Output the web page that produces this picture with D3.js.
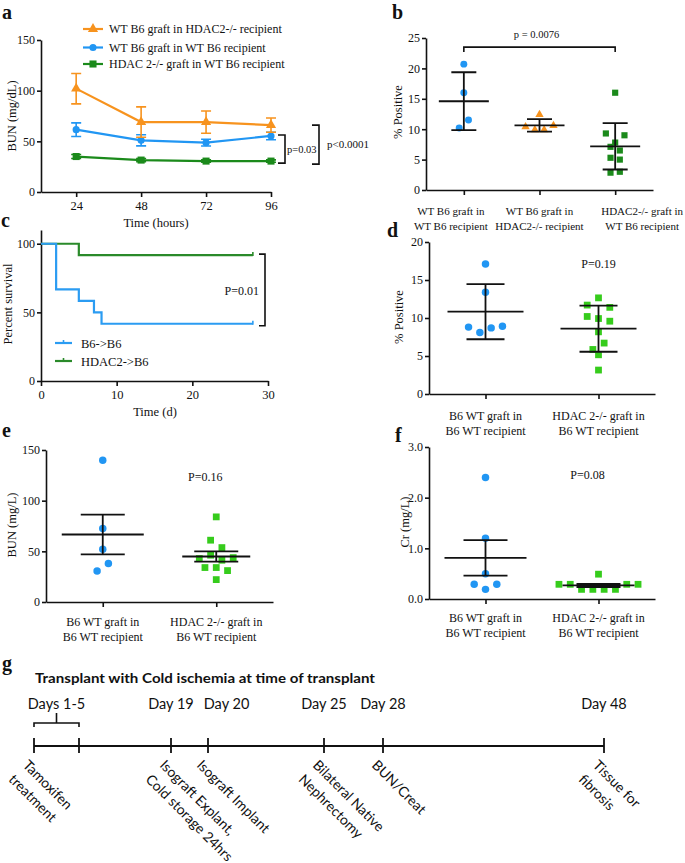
<!DOCTYPE html>
<html><head><meta charset="utf-8">
<script src="https://cdn.jsdelivr.net/npm/d3@7"></script>
<style>
body{margin:0;background:#fff;}
svg{display:block;background:#fff;}
</style></head><body>
<svg id="fig" width="685" height="863"></svg>
<script>
// ================= DATA =================
// Panel a: BUN over time (mean ± SEM)
const aTimes = [24, 48, 72, 96];
const aYTicks = [0, 50, 100, 150];
const aNames = ["WT B6 graft in HDAC2-/- recipient", "WT B6 graft in WT B6 recipient", "HDAC 2-/- graft in WT B6 recipient"];
const aOrangeMean = [102, 69, 69, 66];
const aOrangeErr = [15, 15, 11, 7];
const aBlueMean = [61.5, 51, 48.7, 55.3];
const aBlueErr = [6.7, 5.5, 3.3, 3.7];
const aGreenMean = [35, 31.5, 30.5, 30.5];
const aGreenErr = [2, 1.5, 1.2, 1.2];
const aP = ["p=0.03", "p<0.0001"];

// Panel b: % positive (mean ± SD)
const bLabels = [["WT B6 graft in", "WT B6 recipient"], ["WT B6 graft in", "HDAC2-/- recipient"], ["HDAC2-/- graft in", "WT B6 recipient"]];
const bWtInWt = [20.7, 16.0, 10.2, 11.5];
const bWtInHdac = [12.4, 10.4, 9.9, 9.9, 10.6];
const bHdacInWt = [16.0, 9.3, 7.8, 9.0, 7.1, 6.5, 5.3, 5.0, 2.85, 3.0];
const bYTicks = [0, 5, 10, 15, 20, 25];
const bP = "p = 0.0076";

// Panel c: survival
const cBlueTimes = [0, 2, 5, 7, 8, 28];
const cBlueSurv = [100, 66.7, 58.3, 50, 41.7, 41.7];
const cGreenTimes = [0, 5, 28];
const cGreenSurv = [100, 91.7, 91.7];
const cNames = ["B6->B6", "HDAC2->B6"];
const cXTicks = [0, 10, 20, 30];
const cYTicks = [0, 50, 100];
const cP = "P=0.01";

// Panels d, e, f (two groups each)
const dfLabels = [["B6 WT graft in", "B6 WT recipient"], ["HDAC 2-/- graft in", "B6 WT recipient"]];
const dWt = [17.1, 13.4, 8.8, 8.1, 8.7, 8.9];
const dHdac = [11.7, 12.65, 11.4, 10.2, 9.93, 9.58, 8.18, 5.86, 6.7, 5.16, 3.15];
const dYTicks = [0, 5, 10, 15, 20];
const dP = "P=0.19";
const eWt = [140, 72.5, 52, 30.7, 37.9];
const eHdac = [84, 61, 53.7, 42.9, 46.2, 41.2, 43.8, 34, 34, 31, 22.1];
const eYTicks = [0, 50, 100, 150];
const eP = "P=0.16";
const fWt = [2.4, 1.2, 0.5, 0.29, 0.19, 0.29];
const fHdac = [0.49, 0.29, 0.29, 0.19, 0.19, 0.19, 0.19, 0.29, 0.29];
const fYTicks = [0, 1, 2, 3];
const fP = "P=0.08";

// Panel g: timeline
const gTitle = "Transplant with Cold ischemia at time of transplant";
const gTickDays = [1, 5, 19, 20, 25, 28, 48];
const gDayLabels = ["Days 1-5", "Day 19", "Day 20", "Day 25", "Day 28", "Day 48"];
const gDayLabelDays = [3, 19, 20, 25, 28, 48];
const gEventDays = [1, 19, 20, 25, 28, 48];
const gEventLabels = [["Tamoxifen", "treatment"], ["Isograft Explant,", "Cold storage 24hrs"], ["Isograft Implant"], ["Bilateral Native", "Nephrectomy"], ["BUN/Creat"], ["Tissue for", "fibrosis"]];

// ================= DRAWING =================
const svg = d3.select("#fig");
const SERIF = '"Liberation Serif","Times New Roman",Times,serif';
const SANS = 'Lato,"Open Sans","DejaVu Sans",sans-serif';
const COL = {orange: "#F7931E", blue: "#2196F3", dkgreen: "#1B8A1B", ltgreen: "#36CC1C", ink: "#111"};

function txt(g, s, x, y, o = {}) {
  return g.append("text").attr("x", x).attr("y", y).text(s)
    .attr("font-family", o.ff || SERIF).attr("font-size", o.fs || 12)
    .attr("text-anchor", o.anchor || "start").attr("font-weight", o.fw || "normal")
    .attr("fill", o.fill || COL.ink);
}
function letter(s, x, y) { txt(svg, s, x, y, {fs: 20, fw: "bold"}); }
function yTitle(s, x, y) {
  svg.append("text").attr("transform", `translate(${x},${y}) rotate(-90)`)
    .attr("text-anchor", "middle").attr("font-family", SERIF).attr("font-size", 12.5)
    .attr("fill", COL.ink).text(s);
}
function styleAxis(sel, fs) {
  sel.select(".domain").attr("stroke", COL.ink).attr("stroke-width", 1.6);
  sel.selectAll(".tick line").attr("stroke", COL.ink).attr("stroke-width", 1.6);
  sel.selectAll(".tick text").attr("font-family", SERIF).attr("font-size", fs || 12).attr("fill", COL.ink);
}
function sym(type, size) { return d3.symbol().type(type).size(size)(); }
function bracketV(g, x, y1, y2, w) {
  g.append("path").attr("d", `M${x - w},${y1}H${x}V${y2}H${x - w}`)
    .attr("fill", "none").attr("stroke", COL.ink).attr("stroke-width", 1.6);
}
// simple column scatter layout: points of similar height are spread sideways
function swarm(values, y, spacing, thresh) {
  const order = values.map((v, i) => i).sort((a, b) => values[b] - values[a] || a - b);
  const offs = new Array(values.length).fill(0);
  let cluster = [], start = null;
  const flush = () => {
    const c = cluster.slice().sort((a, b) => a - b);
    c.forEach((k, j) => offs[k] = (j - (c.length - 1) / 2) * spacing);
  };
  order.forEach(i => {
    const py = y(values[i]);
    if (start === null || py - start > thresh) { if (cluster.length) flush(); cluster = [i]; start = py; }
    else cluster.push(i);
  });
  if (cluster.length) flush();
  return offs;
}

// ---------- Panel a ----------
(function () {
  const g = svg.append("g");
  letter("a", 2, 19);
  const x = d3.scaleLinear().domain([11, 96]).range([41, 271]);
  const y = d3.scaleLinear().domain([0, 150]).range([192, 40]);
  g.append("g").attr("transform", "translate(41,0)")
    .call(d3.axisLeft(y).tickValues(aYTicks).tickSize(4).tickSizeOuter(0).tickPadding(2)).call(s => styleAxis(s, 12));
  g.append("g").attr("transform", "translate(0,192)")
    .call(d3.axisBottom(x).tickValues(aTimes).tickSize(5).tickSizeOuter(0).tickPadding(4)).call(s => styleAxis(s, 12.5));
  yTitle("BUN (mg/dL)", 16, 116);
  txt(g, "Time (hours)", 156, 227, {anchor: "middle", fs: 12.5});
  const series = [
    {m: aGreenMean, e: aGreenErr, c: COL.dkgreen, t: d3.symbolSquare, s: 50},
    {m: aBlueMean, e: aBlueErr, c: COL.blue, t: d3.symbolCircle, s: 40},
    {m: aOrangeMean, e: aOrangeErr, c: COL.orange, t: d3.symbolTriangle, s: 45}
  ];
  const line = d3.line().x((d, i) => x(aTimes[i])).y(d => y(d));
  series.forEach(sr => {
    g.append("path").attr("d", line(sr.m)).attr("fill", "none").attr("stroke", sr.c).attr("stroke-width", 2.2);
    sr.m.forEach((v, i) => {
      const cx = x(aTimes[i]), y1 = y(v + sr.e[i]), y2 = y(v - sr.e[i]);
      g.append("path").attr("d", `M${cx},${y1}V${y2}M${cx - 5},${y1}H${cx + 5}M${cx - 5},${y2}H${cx + 5}`)
        .attr("stroke", sr.c).attr("stroke-width", 1.6).attr("fill", "none");
      g.append("path").attr("d", sym(sr.t, sr.s)).attr("transform", `translate(${cx},${y(v)})`).attr("fill", sr.c);
    });
  });
  // legend
  const leg = [series[2], series[1], series[0]];
  leg.forEach((sr, i) => {
    const ly = [29, 47.5, 64][i];
    g.append("line").attr("x1", 83).attr("x2", 103).attr("y1", ly).attr("y2", ly).attr("stroke", sr.c).attr("stroke-width", 2.2);
    g.append("path").attr("d", sym(sr.t, sr.s)).attr("transform", `translate(93,${ly})`).attr("fill", sr.c);
    txt(g, aNames[i], 109, ly + 4, {fs: 12});
  });
  // significance brackets
  const last = aTimes.length - 1;
  bracketV(g, 285, y(aBlueMean[last]) - 1, y(aGreenMean[last]) + 2, 7);
  txt(g, aP[0], 287, 153, {fs: 10.5});
  bracketV(g, 319, y(aOrangeMean[last]), y(aGreenMean[last]) + 3, 7);
  txt(g, aP[1], 327, 148, {fs: 11});
})();

// ---------- dot panels ----------
function dotPanel(o) {
  const g = svg.append("g");
  const x = d3.scalePoint().domain(o.groups.map((d, i) => i)).range([o.x0, o.x1]).padding(0.5);
  const y = d3.scaleLinear().domain(o.domain).range([o.yb, o.yt]);
  g.append("g").attr("transform", `translate(${o.x0},0)`)
    .call(d3.axisLeft(y).tickValues(o.ticks).tickSize(4).tickSizeOuter(0).tickPadding(2)).call(s => styleAxis(s, 12));
  g.append("g").attr("transform", `translate(0,${o.yb})`)
    .call(d3.axisBottom(x).tickSize(5).tickSizeOuter(0).tickFormat("")).call(s => styleAxis(s));
  o.groups.forEach((grp, i) => {
    const cx = x(i);
    const offs = swarm(grp.values, y, o.spacing, 9.8);
    grp.values.forEach((v, k) => {
      g.append("path").attr("d", sym(grp.shape, grp.size))
        .attr("transform", `translate(${cx + offs[k]},${y(v)})`).attr("fill", grp.color);
    });
    const m = d3.mean(grp.values), sd = d3.deviation(grp.values);
    const e = o.err === "sem" ? sd / Math.sqrt(grp.values.length) : sd;
    const mh = grp.meanHalf || o.meanHalf, ch = o.capHalf;
    g.append("path").attr("d",
      `M${cx - mh},${y(m)}H${cx + mh}M${cx},${y(m + e)}V${y(m - e)}M${cx - ch},${y(m + e)}H${cx + ch}M${cx - ch},${y(m - e)}H${cx + ch}`)
      .attr("stroke", COL.ink).attr("stroke-width", 1.8).attr("fill", "none");
    o.labels[i].forEach((line, j) =>
      txt(g, line, cx + (o.labelShift ? o.labelShift[i] : 0), o.labelY + j * o.labelDy, {anchor: "middle", fs: o.labelFs}));
  });
  yTitle(o.ytitle, o.ytx, o.yty);
  return {g, x, y};
}

// ---------- Panel b ----------
(function () {
  letter("b", 392, 19);
  const p = dotPanel({
    x0: 426, x1: 653, yb: 190, yt: 38, domain: [0, 25], ticks: bYTicks, err: "sd",
    meanHalf: 25, capHalf: 12.5, spacing: 9.3,
    groups: [
      {values: bWtInWt, shape: d3.symbolCircle, size: 38, color: COL.blue},
      {values: bWtInHdac, shape: d3.symbolTriangle, size: 30, color: COL.orange},
      {values: bHdacInWt, shape: d3.symbolSquare, size: 38, color: COL.dkgreen}
    ],
    labels: bLabels, labelY: 215, labelDy: 14.5, labelFs: 11, labelShift: [-13, 0, 27],
    ytitle: "% Positive", ytx: 402, yty: 112
  });
  const x1 = p.x(0), x2 = p.x(2), by = p.y(23.5);
  p.g.append("path").attr("d", `M${x1},${by + 5}V${by}H${x2}V${by + 5}`).attr("fill", "none").attr("stroke", COL.ink).attr("stroke-width", 1.6);
  txt(p.g, bP, (x1 + x2) / 2 - 3, 38, {anchor: "middle", fs: 10.5});
})();

// ---------- Panel c ----------
(function () {
  const g = svg.append("g");
  letter("c", 1, 227);
  const x = d3.scaleLinear().domain([0, 30]).range([41, 268]);
  const y = d3.scaleLinear().domain([0, 110]).range([381, 230]);
  g.append("g").attr("transform", "translate(41,0)")
    .call(d3.axisLeft(y).tickValues(cYTicks).tickSize(4).tickSizeOuter(0).tickPadding(2)).call(s => styleAxis(s, 12));
  g.append("g").attr("transform", "translate(0,381)")
    .call(d3.axisBottom(x).tickValues(cXTicks).tickSize(5).tickSizeOuter(0).tickPadding(4)).call(s => styleAxis(s, 12.5));
  yTitle("Percent survival", 12, 304);
  txt(g, "Time (d)", 155, 416, {anchor: "middle", fs: 12.5});
  const step = d3.line().curve(d3.curveStepAfter);
  const curves = [
    {t: cGreenTimes, s: cGreenSurv, c: "#2A8A2A"},
    {t: cBlueTimes, s: cBlueSurv, c: "#2B9CF2"}
  ];
  curves.forEach(cv => {
    g.append("path").attr("d", step(cv.t.map((t, i) => [x(t), y(cv.s[i])])))
      .attr("fill", "none").attr("stroke", cv.c).attr("stroke-width", 2.2);
    const lt = cv.t[cv.t.length - 1], ls = cv.s[cv.s.length - 1];
    g.append("line").attr("x1", x(lt)).attr("x2", x(lt)).attr("y1", y(ls) - 3).attr("y2", y(ls) + 1).attr("stroke", cv.c).attr("stroke-width", 1.6);
  });
  [curves[1], curves[0]].forEach((cv, i) => {
    const ly = 343 + i * 18;
    g.append("line").attr("x1", 55).attr("x2", 72).attr("y1", ly).attr("y2", ly).attr("stroke", cv.c).attr("stroke-width", 2.2);
    g.append("line").attr("x1", 63.5).attr("x2", 63.5).attr("y1", ly - 3).attr("y2", ly).attr("stroke", cv.c).attr("stroke-width", 1.6);
    txt(g, cNames[i], 81, ly + 4.5, {fs: 12.5});
  });
  bracketV(g, 265, y(cGreenSurv[cGreenSurv.length - 1]) - 1, y(cBlueSurv[cBlueSurv.length - 1]) + 2, 6);
  txt(g, cP, 259, 295, {anchor: "end", fs: 12});
})();

// ---------- Panel d ----------
(function () {
  letter("d", 387, 237);
  const p = dotPanel({
    x0: 429, x1: 655, yb: 394, yt: 242, domain: [0, 20], ticks: dYTicks, err: "sd",
    meanHalf: 38, capHalf: 19, spacing: 11.3,
    groups: [
      {values: dWt, shape: d3.symbolCircle, size: 44, color: COL.blue},
      {values: dHdac, shape: d3.symbolSquare, size: 46, color: COL.ltgreen}
    ],
    labels: dfLabels, labelY: 420, labelDy: 15, labelFs: 12,
    ytitle: "% Positive", ytx: 403, yty: 317
  });
  txt(p.g, dP, p.x(1), 268, {anchor: "middle", fs: 12});
})();

// ---------- Panel e ----------
(function () {
  letter("e", 2, 437);
  const p = dotPanel({
    x0: 46, x1: 273, yb: 602, yt: 450, domain: [0, 150], ticks: eYTicks, err: "sem",
    meanHalf: 41, capHalf: 22, spacing: 11.3,
    groups: [
      {values: eWt, shape: d3.symbolCircle, size: 44, color: COL.blue},
      {values: eHdac, shape: d3.symbolSquare, size: 46, color: COL.ltgreen, meanHalf: 34}
    ],
    labels: dfLabels, labelY: 626, labelDy: 15, labelFs: 12,
    ytitle: "BUN (mg/L)", ytx: 16, yty: 525
  });
  txt(p.g, eP, p.x(1) - 11, 481, {anchor: "middle", fs: 12});
})();

// ---------- Panel f ----------
(function () {
  letter("f", 395, 442);
  const p = dotPanel({
    x0: 429, x1: 655, yb: 599, yt: 447, domain: [0, 3], ticks: fYTicks, err: "sem",
    meanHalf: 41, capHalf: 22, spacing: 11.3,
    groups: [
      {values: fWt, shape: d3.symbolCircle, size: 44, color: COL.blue},
      {values: fHdac, shape: d3.symbolSquare, size: 46, color: COL.ltgreen, meanHalf: 36}
    ],
    labels: dfLabels, labelY: 622, labelDy: 15, labelFs: 12,
    ytitle: "Cr (mg/L)", ytx: 409, yty: 522
  });
  txt(p.g, fP, p.x(1) - 11, 479, {anchor: "middle", fs: 12});
})();

// ---------- Panel g ----------
(function () {
  const g = svg.append("g");
  letter("g", 2, 670);
  txt(g, gTitle, 35, 683, {ff: SANS, fs: 13.5, fw: "bold"})
    .attr("textLength", 340).attr("lengthAdjust", "spacingAndGlyphs");
  const gx = d3.scaleLinear().domain(gTickDays).range([34, 79, 171, 208, 324, 383, 604]);
  const lineY = 746;
  g.append("line").attr("x1", gx(gTickDays[0])).attr("x2", gx(gTickDays[gTickDays.length - 1]))
    .attr("y1", lineY).attr("y2", lineY).attr("stroke", COL.ink).attr("stroke-width", 1.8);
  gTickDays.forEach(d => g.append("line").attr("x1", gx(d)).attr("x2", gx(d)).attr("y1", lineY - 8).attr("y2", lineY + 7)
    .attr("stroke", COL.ink).attr("stroke-width", 1.8));
  // bracket for days 1-5
  const bx1 = gx(1), bx2 = gx(5), bmid = (bx1 + bx2) / 2, bY = 723;
  g.append("path").attr("d", `M${bx1},${bY + 4}V${bY}H${bx2}V${bY + 4}M${bmid},${bY}V${bY - 10}`)
    .attr("fill", "none").attr("stroke", COL.ink).attr("stroke-width", 1.6);
  // day labels (shifted right if they would collide)
  let prevRight = -Infinity;
  gDayLabels.forEach((s, i) => {
    const t = txt(g, s, 0, 709, {ff: SANS, fs: 14.5, anchor: "start"});
    const w = t.node().getComputedTextLength();
    let left = gx(gDayLabelDays[i]) - w / 2;
    if (left < prevRight + 10) left = prevRight + 10;
    t.attr("x", left);
    prevRight = left + w;
  });
  // rotated event labels
  gEventDays.forEach((d, i) => {
    const tg = g.append("g").attr("transform", `translate(${gx(d) - 12},766) rotate(45)`);
    const t = tg.append("text").attr("font-family", SANS).attr("font-size", 14).attr("fill", COL.ink);
    gEventLabels[i].forEach((line, j) => t.append("tspan").attr("x", 0).attr("y", j * 20).text(line));
  });
})();
</script>
</body></html>
